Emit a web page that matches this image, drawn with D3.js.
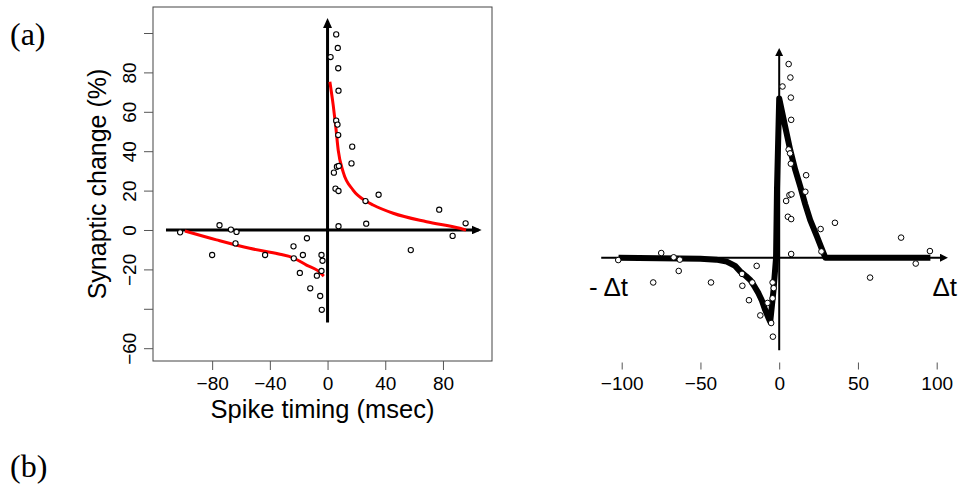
<!DOCTYPE html>
<html>
<head>
<meta charset="utf-8">
<script src="https://cdn.jsdelivr.net/npm/d3@7"></script>
<style type="text/css">
  body{
    margin: 0;
    background: white;
  }
  svg text{
    font-family: 'Liberation Sans', Arial, sans-serif;
    fill: black;
  }
  svg text.panelLabel{
    font-family: 'Liberation Serif', 'DejaVu Serif', serif;
    font-size: 32px;
  }
  .axis path{
    display: none;
  }
  .axis line{
    stroke: #555;
  }
  .axis text{
    font-size: 19px;
  }
</style>
</head>
<body>

<svg id="chart" width="966" height="487"></svg>

<script>

// measured pairs: spike timing (msec) and synaptic change (%)
var timing = [6.0, 7.1, 2.1, 7.4, 7.6, 6.0, 6.9, 7.4, 17.1, 16.6, 6.5, 7.8, 4.4, 5.5, 7.6,
              26.3, 35.4, 77.4, 95.7, 86.7, 26.8, 7.6, 57.7, -102.2, -74.9, -67.0, -63.1,
              -14.3, -80.0, -63.8, -43.3, -23.6, -23.4, -17.1, -19.2, -12.0, -7.4, -4.2,
              -3.5, -4.2, -5.1, -4.0];
var change = [99.3, 92.4, 87.8, 82.1, 70.7, 55.5, 53.5, 48.2, 42.3, 33.8, 32.1, 32.5, 29.1, 21.0, 19.8,
              14.7, 17.9, 10.3, 3.4, -3.0, 3.2, 1.9, -10.2, -1.2, 2.4, 0.2, -1.0,
              -4.2, -12.7, -6.8, -12.7, -8.3, -14.4, -12.7, -21.8, -29.6, -23.2, -12.7,
              -15.6, -20.8, -33.5, -40.5];

// red fitted curves (a)
var fitPosT = [1.6, 3.9, 5.7, 7.4, 10.8, 17.7, 26.6, 31.6, 45.5, 68.6, 91.7, 96];
var fitPosV = [75.3, 63.5, 52.4, 40.5, 29.5, 20.3, 14.7, 12.7, 8.5, 4.2, 0.85, 0];
var fitNegT = [-98.9, -77, -54, -33, -23.8, -14.6, -7, -2.6];
var fitNegV = [-0.5, -5, -9.3, -12.3, -14.1, -17.8, -20.5, -23.4];

// black learning window (b)
var windowT = [-102, -50, -40, -33.3, -28, -24.8, -21, -18.4, -15.5, -13.1, -11, -8.9, -7, -5.7,
               -3.6, -2, -1.4, 0, 3.8, 7, 10.2, 13.4, 16.5, 19.7, 24, 26.8, 29.3, 96];
var windowV = [0, -0.5, -1, -2, -4.2, -7, -9.5, -11.4, -15, -18.3, -22, -26.8, -30.5, -32.8,
               -16.6, 0, 35, 81.7, 67.2, 55.2, 45, 36.4, 27.5, 19.3, 10.8, 5, 0, 0];

var leftXTicks = [-80, -40, 0, 40, 80];
var leftYTicks = [-60, -40, -20, 0, 20, 40, 60, 80, 100];
var leftYLabels = [-60, -20, 0, 20, 40, 60, 80];
var rightXTicks = [-100, -50, 0, 50, 100];

var points = timing.map(function(t, i) { return {t: t, v: change[i]}; });
var fitPos = fitPosT.map(function(t, i) { return [t, fitPosV[i]]; });
var fitNeg = fitNegT.map(function(t, i) { return [t, fitNegV[i]]; });
var stdpWindow = windowT.map(function(t, i) { return [t, windowV[i]]; });

var svg = d3.select("#chart");

var defs = svg.append("defs");
function addArrow(id, len, half) {
  defs.append("marker")
    .attr("id", id)
    .attr("viewBox", "0 " + (-half) + " " + len + " " + (2*half))
    .attr("refX", len - 3)
    .attr("refY", 0)
    .attr("markerUnits", "userSpaceOnUse")
    .attr("markerWidth", len)
    .attr("markerHeight", 2*half)
    .attr("orient", "auto")
    .append("path")
    .attr("d", "M0," + (-half) + "L" + len + ",0L0," + half + "Z")
    .attr("fill", "black");
}
addArrow("arrowBig", 10, 4.5);
addArrow("arrowSmall", 8, 4);

// ---------- panel (a), left ----------

var xL = d3.scaleLinear().domain([-121, 114]).range([153, 492]);
var yL = d3.scaleLinear().domain([-66.5, 113.2]).range([361, 7]);

svg.append("rect")
  .attr("x", xL.range()[0])
  .attr("y", yL.range()[1])
  .attr("width", xL.range()[1] - xL.range()[0])
  .attr("height", yL.range()[0] - yL.range()[1])
  .attr("fill", "none")
  .attr("stroke", "#444")
  .attr("stroke-width", 1);

var xAxisL = d3.axisBottom(xL).tickValues(leftXTicks).tickSize(9).tickFormat(d3.format("d"));
svg.append("g")
  .attr("class", "axis")
  .attr("transform", "translate(0," + yL.range()[0] + ")")
  .call(xAxisL)
  .selectAll("text")
  .attr("y", 16)
  .attr("dy", "0.71em");

var yAxisL = d3.axisLeft(yL).tickValues(leftYTicks).tickSize(9)
  .tickFormat(function(d) { return leftYLabels.indexOf(d) >= 0 ? d3.format("d")(d) : ""; });
var gy = svg.append("g")
  .attr("class", "axis")
  .attr("transform", "translate(" + xL.range()[0] + ",0)")
  .call(yAxisL);
gy.selectAll("text")
  .attr("x", null)
  .attr("dy", null)
  .attr("text-anchor", "middle")
  .attr("transform", "translate(-17,0) rotate(-90)");

svg.append("text")
  .attr("x", (xL.range()[0] + xL.range()[1]) / 2)
  .attr("y", 418)
  .attr("text-anchor", "middle")
  .style("font-size", "25.5px")
  .text("Spike timing (msec)");

svg.append("text")
  .attr("transform", "translate(106," + ((yL.range()[0] + yL.range()[1]) / 2) + ") rotate(-90)")
  .attr("text-anchor", "middle")
  .style("font-size", "25px")
  .text("Synaptic change (%)");

// axis arrows
svg.append("line")
  .attr("x1", xL(-112)).attr("x2", xL(106.8) - 3)
  .attr("y1", yL(0)).attr("y2", yL(0))
  .attr("stroke", "black").attr("stroke-width", 3)
  .attr("marker-end", "url(#arrowBig)");
svg.append("line")
  .attr("x1", xL(0)).attr("x2", xL(0))
  .attr("y1", yL(-47)).attr("y2", yL(107.6) + 3)
  .attr("stroke", "black").attr("stroke-width", 3)
  .attr("marker-end", "url(#arrowBig)");

var lineL = d3.line()
  .x(function(d) { return xL(d[0]); })
  .y(function(d) { return yL(d[1]); })
  .curve(d3.curveMonotoneX);

[fitPos, fitNeg].forEach(function(fit) {
  svg.append("path")
    .attr("d", lineL(fit))
    .attr("fill", "none")
    .attr("stroke", "#ff0000")
    .attr("stroke-width", 3);
});

svg.append("g")
  .selectAll("circle")
  .data(points)
  .enter()
  .append("circle")
  .attr("cx", function(d) { return xL(d.t); })
  .attr("cy", function(d) { return yL(d.v); })
  .attr("r", 2.6)
  .attr("fill", "white")
  .attr("stroke", "black")
  .attr("stroke-width", 1.1);

// ---------- panel (b), right ----------

var xR = d3.scaleLinear().domain([-100, 100]).range([621.7, 936.7]);
var yR = d3.scaleLinear().domain([-50, 110]).range([355.2, 43.2]);

var xAxisR = d3.axisBottom(xR).tickValues(rightXTicks).tickSize(7).tickFormat(d3.format("d"));
var gxr = svg.append("g")
  .attr("class", "axis")
  .attr("transform", "translate(0,362.5)")
  .call(xAxisR);
gxr.selectAll("line").attr("stroke", "#bbb");
gxr.selectAll("text").attr("y", 14).attr("dy", "0.71em");

svg.append("line")
  .attr("x1", xR(-113)).attr("x2", xR(106.5) - 2)
  .attr("y1", yR(0)).attr("y2", yR(0))
  .attr("stroke", "black").attr("stroke-width", 2)
  .attr("marker-end", "url(#arrowSmall)");
svg.append("line")
  .attr("x1", xR(0)).attr("x2", xR(0))
  .attr("y1", yR(-47.4)).attr("y2", yR(107) + 2)
  .attr("stroke", "black").attr("stroke-width", 2)
  .attr("marker-end", "url(#arrowSmall)");

var lineR = d3.line()
  .x(function(d) { return xR(d[0]); })
  .y(function(d) { return yR(d[1]); });

svg.append("path")
  .attr("d", lineR(stdpWindow))
  .attr("fill", "none")
  .attr("stroke", "black")
  .attr("stroke-width", 6)
  .attr("stroke-linejoin", "round");

svg.append("g")
  .selectAll("circle")
  .data(points)
  .enter()
  .append("circle")
  .attr("cx", function(d) { return xR(d.t); })
  .attr("cy", function(d) { return yR(d.v); })
  .attr("r", 2.8)
  .attr("fill", "white")
  .attr("stroke", "black")
  .attr("stroke-width", 1);

svg.append("text")
  .attr("x", 589)
  .attr("y", 296)
  .style("font-size", "26px")
  .text("- \u0394t");
svg.append("text")
  .attr("x", 957)
  .attr("y", 296)
  .attr("text-anchor", "end")
  .style("font-size", "26px")
  .text("\u0394t");

// panel labels
svg.append("text").attr("class", "panelLabel").attr("x", 10).attr("y", 45).text("(a)");
svg.append("text").attr("class", "panelLabel").attr("x", 10).attr("y", 477).text("(b)");

</script>
</body>
</html>
